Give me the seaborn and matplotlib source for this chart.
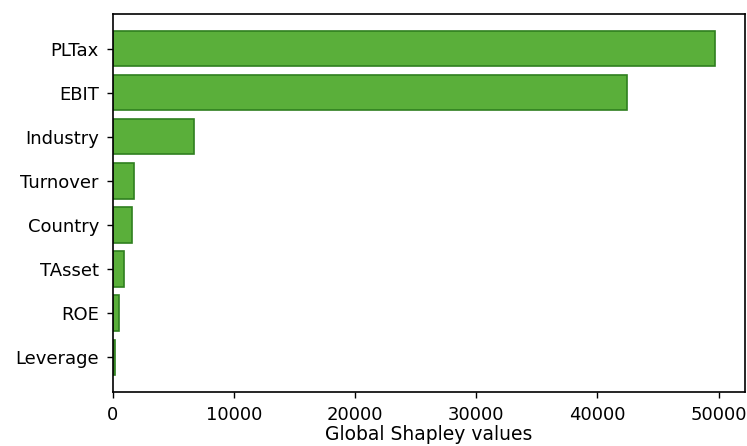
import matplotlib
matplotlib.use("Agg")
import matplotlib.pyplot as plt
import seaborn as sns
import pandas as pd

# Global Shapley importance per feature
features = ["PLTax", "EBIT", "Industry", "Turnover", "Country", "TAsset", "ROE", "Leverage"]
shapley_values = [49670, 42460, 6710, 1730, 1570, 930, 500, 150]

df = pd.DataFrame({"feature": features, "value": shapley_values})

sns.set_style("white", rc={"text.color": "black", "axes.labelcolor": "black",
                           "xtick.color": "black", "ytick.color": "black",
                           "axes.edgecolor": "black"})
plt.rcParams["font.family"] = ["DejaVu Sans"]

fig = plt.figure(figsize=(7.47, 4.46), dpi=100)
ax = fig.add_axes([0.151, 0.121, 0.846, 0.848])

sns.barplot(data=df, x="value", y="feature", orient="h", ax=ax,
            color="#5aaf3a", edgecolor="#2f7f1f", linewidth=1.2,
            saturation=1, width=0.8)

n = len(features)
ax.set_ylim(n - 1 + 0.79, -0.79)
ax.set_xticks([0, 10000, 20000, 30000, 40000, 50000])
ax.set_xlabel("Global Shapley values", fontsize=13.5, labelpad=1)
ax.set_ylabel("")
ax.tick_params(axis="both", labelsize=13, length=4, width=1, direction="out",
               bottom=True, left=True, color="black", labelcolor="black")
ax.tick_params(axis="y", pad=6)
ax.tick_params(axis="x", pad=6)
for s in ax.spines.values():
    s.set_visible(True)
    s.set_color("black")
    s.set_linewidth(1.2)

fig.savefig("out.png", dpi=100, facecolor="white")
